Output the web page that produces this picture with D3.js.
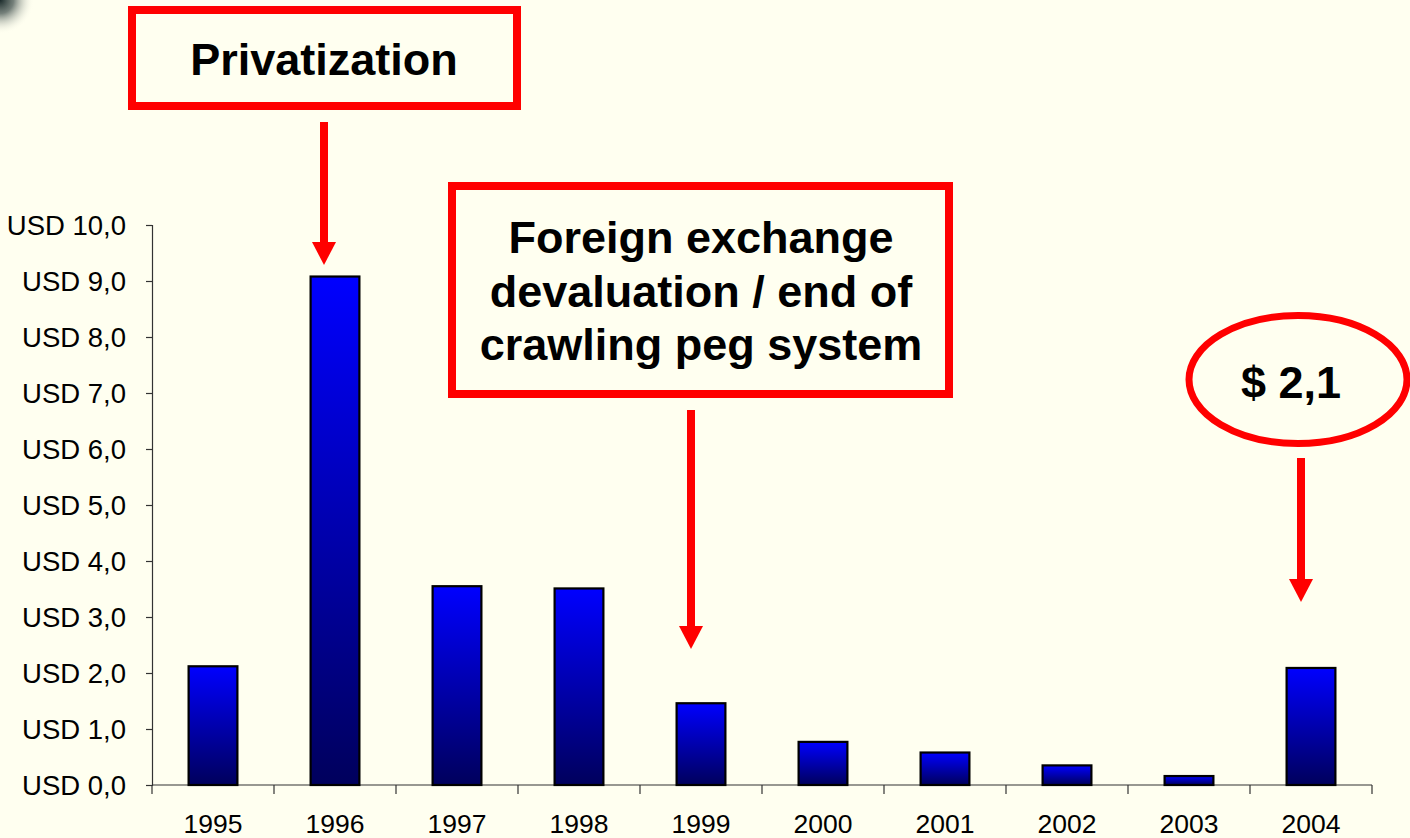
<!DOCTYPE html>
<html>
<head>
<meta charset="utf-8">
<script src="https://cdn.jsdelivr.net/npm/d3@7"></script>
<style>
  html, body { margin: 0; padding: 0; background: #FFFFF0; }
  svg { display: block; font-family: "Liberation Sans", Arial, sans-serif; }
</style>
</head>
<body>
<svg id="chart" width="1410" height="838"></svg>
<script>
const years = ["1995","1996","1997","1998","1999","2000","2001","2002","2003","2004"];
const values = [2.12, 9.08, 3.55, 3.51, 1.46, 0.77, 0.58, 0.35, 0.16, 2.09];
const yTicks = [0,1,2,3,4,5,6,7,8,9,10];
const annotationBoxes = [
  { lines: ["Privatization"], year: "1996" },
  { lines: ["Foreign exchange", "devaluation / end of", "crawling peg system"], year: "1999" }
];
const calloutText = "$ 2,1";
const calloutYear = "2004";

const svg = d3.select("#chart");
const W = 1410, H = 838;

const defs = svg.append("defs");
const grad = defs.append("linearGradient").attr("id","barGrad")
  .attr("x1","0").attr("y1","0").attr("x2","0").attr("y2","1");
grad.append("stop").attr("offset","0%").attr("stop-color","#0000ff");
grad.append("stop").attr("offset","100%").attr("stop-color","#00005c");

const corner = defs.append("radialGradient").attr("id","cornerGrad")
  .attr("cx","0").attr("cy","0").attr("r","1");
corner.append("stop").attr("offset","0%").attr("stop-color","#1a2a2a").attr("stop-opacity",1);
corner.append("stop").attr("offset","40%").attr("stop-color","#3a4a48").attr("stop-opacity",0.7);
corner.append("stop").attr("offset","100%").attr("stop-color","#FFFFF0").attr("stop-opacity",0);

svg.append("rect").attr("width",W).attr("height",H).attr("fill","#FFFFF0");
svg.append("rect").attr("x",0).attr("y",0).attr("width",34).attr("height",34).attr("fill","url(#cornerGrad)");

const x = d3.scaleBand().domain(years).range([152, 1372]).paddingInner(0.6).paddingOuter(0.3);
const y = d3.scaleLinear().domain([0, 10]).range([785, 225]);

// Y axis
const yAxis = d3.axisLeft(y).tickValues(yTicks).tickSize(6).tickPadding(20)
  .tickFormat(d => "USD " + d3.format(".1f")(d).replace(".", ","));
const gy = svg.append("g").attr("transform","translate(152,0)").call(yAxis);
gy.select(".domain").attr("stroke","#333").attr("stroke-width",1.2);
gy.selectAll(".tick line").attr("stroke","#333").attr("stroke-width",1.2);
gy.selectAll(".tick text").attr("font-size","27.5px").attr("fill","#000")
  .attr("font-family","'Liberation Sans', Arial, sans-serif").attr("dy","0.36em");

// X axis with category boundary ticks
const gx = svg.append("g").attr("transform","translate(0,785)");
gx.append("line").attr("x1",152).attr("x2",1372).attr("stroke","#333").attr("stroke-width",1.2);
const edges = years.map((d,i) => 152 + i * x.step()).concat([1372]);
gx.selectAll("line.tk").data(edges).join("line").attr("class","tk")
  .attr("x1",d=>d).attr("x2",d=>d).attr("y1",0).attr("y2",9)
  .attr("stroke","#333").attr("stroke-width",1.2);
gx.selectAll("text").data(years).join("text")
  .attr("x", d => x(d) + x.bandwidth()/2).attr("y", 48)
  .attr("text-anchor","middle").attr("font-size","26.5px").attr("fill","#000")
  .text(d => d);

// Bars
svg.append("g").selectAll("rect").data(years).join("rect")
  .attr("x", d => x(d)).attr("width", x.bandwidth())
  .attr("y", (d,i) => y(values[i])).attr("height", (d,i) => y(0) - y(values[i]))
  .attr("fill","url(#barGrad)").attr("stroke","#000").attr("stroke-width",2.2);

// Arrow helper
function arrow(cx, y1, tip) {
  const g = svg.append("g").attr("fill","#ff0000");
  g.append("rect").attr("x", cx-4).attr("y", y1).attr("width", 8).attr("height", tip - 23 - y1 + 1);
  g.append("path").attr("d", `M${cx-12},${tip-23} L${cx+12},${tip-23} L${cx},${tip} Z`);
}

const cxOf = yr => x(yr) + x.bandwidth()/2;

// Box 1: Privatization
svg.append("rect").attr("x",132).attr("y",10).attr("width",385).attr("height",96)
  .attr("fill","none").attr("stroke","#ff0000").attr("stroke-width",8);
svg.append("text").attr("x",324).attr("y",75).attr("text-anchor","middle")
  .attr("font-size","45px").attr("font-weight","bold").attr("fill","#000")
  .text(annotationBoxes[0].lines[0]);
arrow(cxOf(annotationBoxes[0].year) - 11, 122, 265);

// Box 2
svg.append("rect").attr("x",452).attr("y",186).attr("width",497).attr("height",208)
  .attr("fill","none").attr("stroke","#ff0000").attr("stroke-width",8);
svg.append("text").attr("text-anchor","middle").attr("font-size","45px")
  .attr("font-weight","bold").attr("fill","#000")
  .selectAll("tspan").data(annotationBoxes[1].lines).join("tspan")
  .attr("x",701).attr("y",(d,i)=>253 + i*53.5).text(d=>d);
arrow(cxOf(annotationBoxes[1].year) - 10, 410, 649);

// Callout ellipse
svg.append("ellipse").attr("cx",1298).attr("cy",379.5).attr("rx",109).attr("ry",64)
  .attr("fill","none").attr("stroke","#ff0000").attr("stroke-width",7);
svg.append("text").attr("x",1291).attr("y",398).attr("text-anchor","middle")
  .attr("font-size","45px").attr("font-weight","bold").attr("fill","#000")
  .text(calloutText);
arrow(cxOf(calloutYear) - 10, 458, 602);
</script>
</body>
</html>
